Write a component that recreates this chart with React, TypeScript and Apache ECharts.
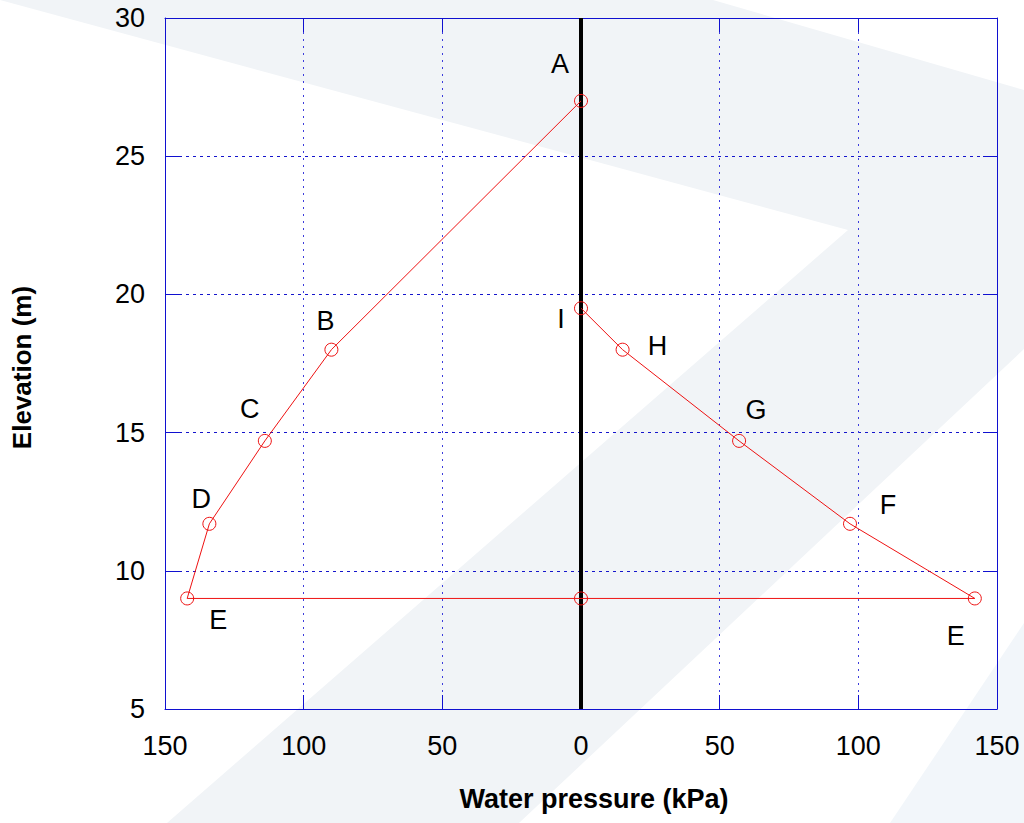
import React, { useEffect, useRef } from "react";
import * as echarts from "echarts";

// Point names along the pressure diagram (drawn as one connected line)
const pointNames = ["I", "H", "G", "F", "E", "", "E", "D", "C", "B", "A"];
// Water pressure (kPa) — left side plotted as negative
const pressure = [0, 15, 57, 97, 142, 0, -142, -134, -114, -90, 0];
// Elevation (m)
const elevation = [19.5, 18, 14.7, 11.7, 9, 9, 9, 11.7, 14.7, 18, 27];
// Label offsets (px) relative to each point
const labelOffsets: [number, number][] = [
  [-20, 11],
  [35, -4],
  [17, -31],
  [38, -19],
  [-19, 38],
  [0, 0],
  [31, 22],
  [-8, -25],
  [-15, -32],
  [-6, -29],
  [-21, -37],
];

const xTicks = { min: -150, max: 150, interval: 50 };
const yTicks = { min: 5, max: 30, interval: 5 };

const FONT = "'Liberation Sans', Arial, Helvetica, sans-serif";
const AXIS_BLUE = "#1010d0";

export default function App() {
  const ref = useRef<HTMLDivElement>(null);

  useEffect(() => {
    if (!ref.current) return;
    const chart = echarts.init(ref.current, null, { renderer: "svg" });

    const data = pressure.map((p, i) => ({
      value: [p, elevation[i]],
      name: pointNames[i],
      label: {
        show: pointNames[i] !== "",
        formatter: pointNames[i],
        position: "inside",
        offset: labelOffsets[i],
        fontSize: 27,
        color: "#000",
        fontFamily: FONT,
      },
    }));

    const common = {
      axisLine: { show: true, onZero: false, lineStyle: { color: AXIS_BLUE, width: 1 } },
      axisTick: { show: true, inside: true, length: 14, lineStyle: { color: AXIS_BLUE, width: 1 } },
    };

    chart.setOption({
      animation: false,
      backgroundColor: "#ffffff",
      graphic: [
        {
          type: "polygon",
          z: -100,
          silent: true,
          shape: {
            points: [
              [0, 0],
              [713, 0],
              [1024, 90],
              [1024, 349],
              [519, 823],
              [167, 823],
              [848, 230],
            ],
          },
          style: { fill: "#f1f4f7" },
        },
        {
          type: "polygon",
          z: -100,
          silent: true,
          shape: {
            points: [
              [1024, 623],
              [1024, 823],
              [890, 823],
            ],
          },
          style: { fill: "#f2f6fa" },
        },
      ],
      grid: { left: 165, right: 27, top: 18, bottom: 114, containLabel: false },
      xAxis: [
        {
          type: "value",
          position: "bottom",
          ...xTicks,
          ...common,
          axisLabel: {
            margin: 23,
            fontSize: 27,
            color: "#000",
            fontFamily: FONT,
            formatter: (v: number) => String(Math.abs(v)),
          },
          splitLine: {
            show: true,
            lineStyle: { color: "#3c3cdc", type: [2, 5], width: 1 },
          },
          name: "Water pressure (kPa)",
          nameLocation: "middle",
          nameGap: 76,
          nameTextStyle: {
            fontSize: 27,
            fontWeight: "bold",
            color: "#000",
            fontFamily: FONT,
            padding: [0, 0, 0, 26],
          },
        },
        {
          type: "value",
          position: "top",
          ...xTicks,
          ...common,
          axisLabel: { show: false },
          splitLine: { show: false },
        },
      ],
      yAxis: [
        {
          type: "value",
          position: "left",
          ...yTicks,
          ...common,
          axisLabel: { margin: 20, fontSize: 27, color: "#000", fontFamily: FONT },
          splitLine: {
            show: true,
            lineStyle: { color: "#1515cc", type: [3, 4], width: 1 },
          },
          name: "Elevation (m)",
          nameLocation: "middle",
          nameGap: 130,
          nameRotate: 90,
          nameTextStyle: {
            fontSize: 26,
            fontWeight: "bold",
            color: "#000",
            fontFamily: FONT,
            padding: [0, 8, 0, 0],
          },
        },
        {
          type: "value",
          position: "right",
          ...yTicks,
          ...common,
          axisLabel: { show: false },
          splitLine: { show: false },
        },
      ],
      series: [
        {
          type: "line",
          data,
          symbol: "circle",
          symbolSize: 13,
          showAllSymbol: true,
          lineStyle: { color: "#ee1111", width: 1 },
          itemStyle: { color: "rgba(0,0,0,0)", borderColor: "#ee1111", borderWidth: 1 },
          z: 5,
          markLine: {
            silent: true,
            symbol: "none",
            label: { show: false },
            lineStyle: { color: "#000", width: 4, type: "solid" },
            data: [{ xAxis: 0 }],
            z: 4,
          },
        },
      ],
    });

    return () => chart.dispose();
  }, []);

  return (
    <div
      ref={ref}
      style={{ position: "fixed", left: 0, top: 0, width: 1024, height: 823 }}
    />
  );
}
